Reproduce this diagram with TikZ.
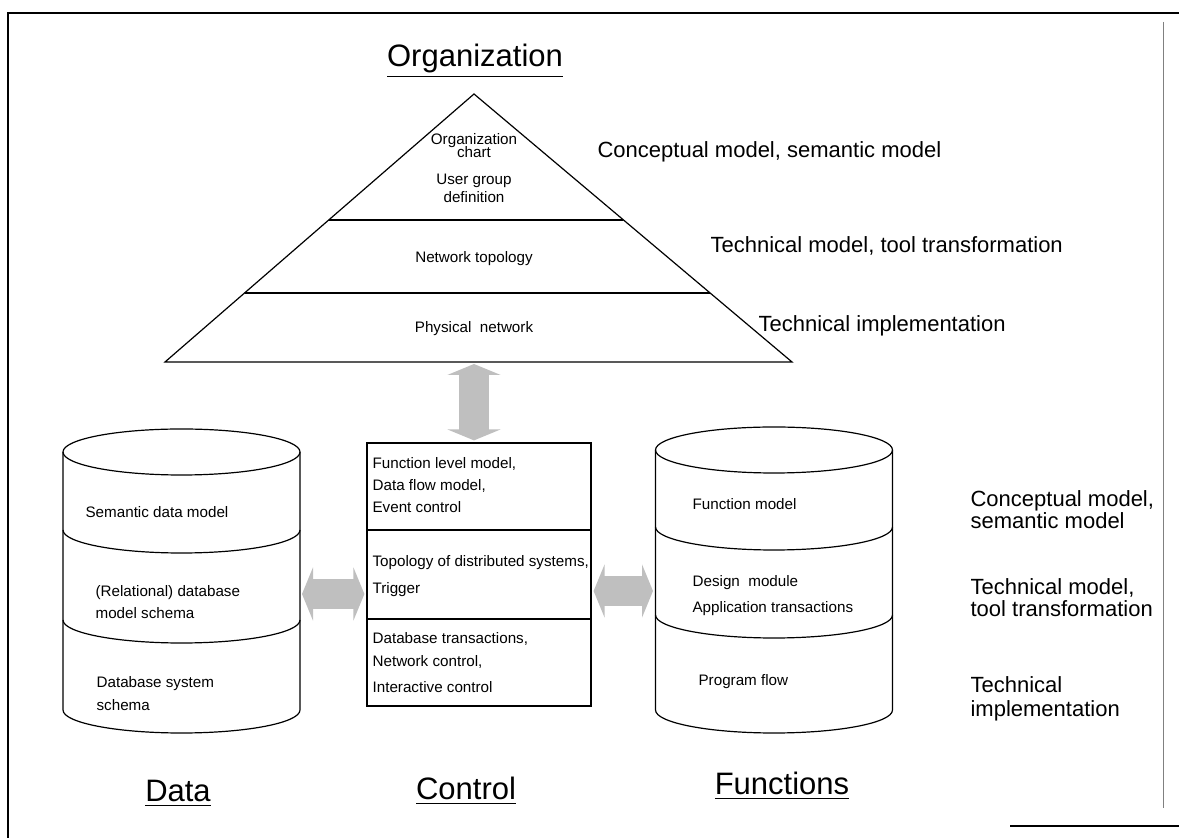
\documentclass[tikz,border=0pt]{standalone}
\usepackage{fontspec}
\setmainfont{Liberation Sans}
\usepackage{tikz}
\usetikzlibrary{calc,arrows.meta}
\newcommand*{\TextLines}[2]{% #1 = list of name/x/y/text, #2 = style
\foreach \n/\x/\y/\text in {#1} {
\node [#2] (\n) at (\x,\y) {\text};
}%
}
\def\drumrx{118.5}
\def\drumry{23}
\newcommand*{\Drum}[4]{% #1 = centre x, #2 = top y, #3 = bottom y, #4 = list of divider y
\draw (#1,#2) ellipse [x radius=\drumrx, y radius=\drumry];
\draw (#1-\drumrx,#2) -- (#1-\drumrx,#3)
  arc [start angle=180, end angle=0, x radius=\drumrx, y radius=\drumry] -- (#1+\drumrx,#2);
\foreach \d in {#4} {
\draw (#1-\drumrx,\d) arc [start angle=180, end angle=0, x radius=\drumrx, y radius=\drumry];
}%
}

\begin{document}
\begin{tikzpicture}[x=0.5pt, y=-0.5pt, line width=0.6pt,
  txt/.style={inner sep=0pt, anchor=base west, font=\fontsize{7.6}{9}\selectfont},
  midtxt/.style={txt, anchor=base},
  side/.style={inner sep=0pt, anchor=base west, font=\fontsize{11}{13}\selectfont},
  title/.style={inner sep=0pt, anchor=base, font=\fontsize{15.5}{18}\selectfont},
  fatlink/.style={line width=15pt, draw=gray!50,
    {Triangle[length=5.5pt,width=26.5pt]}-{Triangle[length=5.5pt,width=26.5pt]},
    shorten <=1pt, shorten >=1pt}]

            \useasboundingbox (0,0) rectangle (1179,838);
            % frame
            \draw [line width=0.9pt] (8,838) -- (8,13) -- (1179,13);
            \draw [line width=0.4pt, gray] (1163,22) -- (1163,808);
            \draw [line width=0.9pt] (1010,826) -- (1179,826);

            % organization pyramid
            \coordinate (apex) at (474,94);
            \coordinate (baseL) at (165,362);
            \coordinate (baseR) at (792,362);
            \draw (apex) -- (baseL) -- (baseR) -- cycle;
            \draw ($(apex)!0.470!(baseL)$) -- ($(apex)!0.470!(baseR)$);
            \draw ($(apex)!0.7425!(baseL)$) -- ($(apex)!0.7425!(baseR)$);
            \TextLines{tri1/474/145/{Organization}, tri2/474/158/{chart},
              tri3/474/185/{User group}, tri4/474/203/{definition},
              tri5/474/263/{Network topology}, tri6/474/333/{Physical\ \ network}}{midtxt}
            \TextLines{lvl1/597/158/{Conceptual model, semantic model},
              lvl2/710/253/{Technical model, tool transformation},
              lvl3/758/332/{Technical implementation}}{side}

            % data, control, functions
            \Drum{181.5}{452}{710}{530,620}
            \Drum{774}{450}{710}{527,615}
            \node [draw, inner sep=0pt, minimum width=112pt, minimum height=131.5pt] (ctrl) at (479,574.5) {};
            \draw (ctrl.west |- 0,530) -- (ctrl.east |- 0,530);
            \draw (ctrl.west |- 0,619) -- (ctrl.east |- 0,619);
            \TextLines{dat1/85/518/{Semantic data model},
              dat2/95/597/{(Relational) database}, dat3/95/619/{model schema},
              dat4/96/688/{Database system}, dat5/96/711/{schema}}{txt}
            \TextLines{ctl1/372/469/{Function level model,}, ctl2/372/491/{Data flow model,},
              ctl3/372/513/{Event control},
              ctl4/372/567/{Topology of distributed systems,}, ctl5/372/594/{Trigger},
              ctl6/372/644/{Database transactions,}, ctl7/372/667/{Network control,},
              ctl8/372/693/{Interactive control}}{txt}
            \TextLines{fun1/692/510/{Function model},
              fun2/692/587/{Design\ \ module}, fun3/692/613/{Application transactions},
              fun4/698/686/{Program flow}}{txt}
            \TextLines{lay1/970/507/{Conceptual model,}, lay2/970/529/{semantic model},
              lay3/970/595/{Technical model,}, lay4/970/617/{tool transformation},
              lay5/970/693/{Technical}, lay6/970/717/{implementation}}{side}

            % links
            \coordinate (dataR) at (300,594);
            \coordinate (funcL) at (655,591);
            \draw [fatlink] (dataR) -- (dataR -| ctrl.west);
            \draw [fatlink] (ctrl.east |- funcL) -- (funcL);
            \draw [fatlink] (apex |- baseL) -- (apex |- ctrl.north);

            % titles
            \node [title] (org) at (475,67) {\underline{Organization}};
            \node [title] (data) at (178,802) {\underline{Data}};
            \node [title] (control) at (466,800) {\underline{Control}};
            \node [title] (functions) at (782,795) {\underline{Functions}};
        \end{tikzpicture}
\end{document}
